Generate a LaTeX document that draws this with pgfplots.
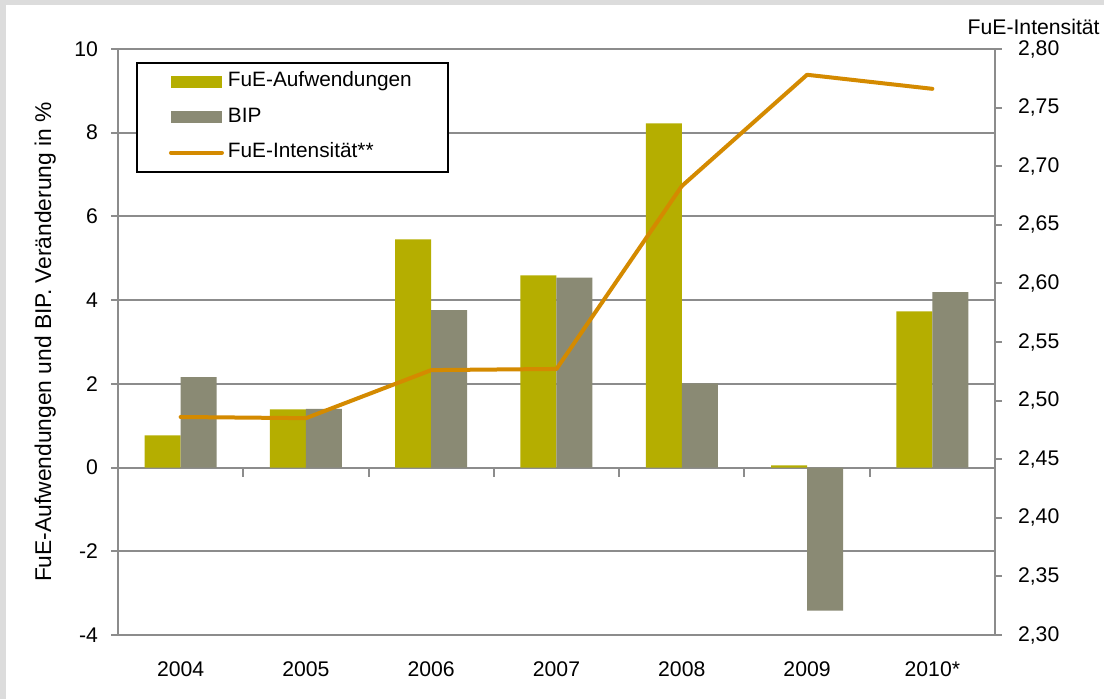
\documentclass[border=0pt]{standalone}
\usepackage{fontspec}
\setmainfont{Liberation Sans}
\usepackage{pgfplots}
\usepackage{pgfplotstable}
\pgfplotsset{compat=1.18}

\definecolor{fueBar}{RGB}{181,174,0}
\definecolor{bipBar}{RGB}{138,138,116}
\definecolor{intLine}{RGB}{212,138,0}
\definecolor{axisGray}{RGB}{140,140,140}
\definecolor{frameGray}{RGB}{220,220,220}

% change rates in % (left axis) and R&D intensity (right axis)
\pgfplotstableread{
idx fue  bip   int
0   0.77 2.16  2.486
1   1.39 1.40  2.485
2   5.45 3.76  2.526
3   4.59 4.54  2.527
4   8.22 2.01  2.683
5   0.05 -3.42 2.778
6   3.73 4.19  2.766
}\rdData

\pgfplotsset{
  fuelegend/.style={legend image code/.code={\fill[fueBar] (0pt,-3pt) rectangle (25.5pt,3pt);}},
  biplegend/.style={legend image code/.code={\fill[bipBar] (0pt,-3pt) rectangle (25.5pt,3pt);}},
}

\begin{document}
\begin{tikzpicture}[font=\fontsize{10.6}{12.7}\selectfont]
% frame
\fill[frameGray] (0,0) rectangle (552pt,349.5pt);
\fill[white] (3pt,0) rectangle (552pt,347pt);

\begin{axis}[
  at={(59pt,32pt)}, anchor=south west,
  scale only axis, width=438.5pt, height=293pt,
  xmin=-0.5, xmax=6.5, ymin=-4, ymax=10,
  xtick={0,...,6},
  xticklabels={2004,2005,2006,2007,2008,2009,2010*},
  xtick style={draw=none},
  xticklabel style={yshift=-6.5pt},
  ytick={-4,-2,0,2,4,6,8,10},
  ytick pos=left,
  yticklabel style={xshift=-3pt},
  tick align=outside,
  major tick length=3.5pt,
  ytick style={axisGray, line width=1pt},
  axis line style={axisGray, line width=1pt},
  ymajorgrids,
  grid style={axisGray, line width=1pt},
  /pgf/number format/assume math mode=true,
  ylabel={FuE-Aufwendungen und BIP. Veränderung in \%},
  ylabel style={at={(axis description cs:-0.083,0.5)}, anchor=center,
    font=\fontsize{11.4}{13.6}\selectfont},
  legend cell align=left,
  legend style={
    at={(0.0205,0.978)}, anchor=north west,
    draw=black, line width=1pt, fill=white,
    inner xsep=16pt, inner ysep=2.5pt, row sep=3.7pt,
    nodes={text height=7.5pt, text depth=2.5pt},
    font=\fontsize{10.4}{12.5}\selectfont,
  },
]
\addplot[ybar, bar width=18pt, bar shift=-9pt, fill=fueBar, draw=none, fuelegend]
  table[x=idx, y=fue] {\rdData};
\addlegendentry{FuE-Aufwendungen}
\addplot[ybar, bar width=18pt, bar shift=9pt, fill=bipBar, draw=none, biplegend]
  table[x=idx, y=bip] {\rdData};
\addlegendentry{BIP}
\addlegendimage{legend image code/.code={\draw[intLine, line width=2pt, line cap=round] (0pt,0pt) -- (25.5pt,0pt);}}
\addlegendentry{FuE-Intensität**}
% category separators on the zero line
\pgfplotsinvokeforeach{0.5,1.5,2.5,3.5,4.5,5.5}{
  \draw[axisGray, line width=1pt] (axis cs:#1,0) -- ([yshift=-4.5pt]axis cs:#1,0);
}
\end{axis}

\begin{axis}[
  at={(59pt,32pt)}, anchor=south west,
  scale only axis, width=438.5pt, height=293pt,
  xmin=-0.5, xmax=6.5, ymin=2.30, ymax=2.80,
  hide x axis,
  ytick={2.30,2.35,2.40,2.45,2.50,2.55,2.60,2.65,2.70,2.75,2.80},
  ytick pos=right,
  tick align=outside,
  major tick length=3.5pt,
  ytick style={axisGray, line width=1pt},
  axis line style={axisGray, line width=1pt},
  yticklabel style={xshift=4.5pt, /pgf/number format/.cd, use comma, fixed, fixed zerofill, precision=2, assume math mode=true},
]
\addplot[intLine, line width=2pt, line cap=round, line join=round, mark=none]
  table[x=idx, y=int] {\rdData};
\end{axis}

\node[anchor=east, inner sep=0pt] at (550pt,336pt) {FuE-Intensität};
\end{tikzpicture}
\end{document}
